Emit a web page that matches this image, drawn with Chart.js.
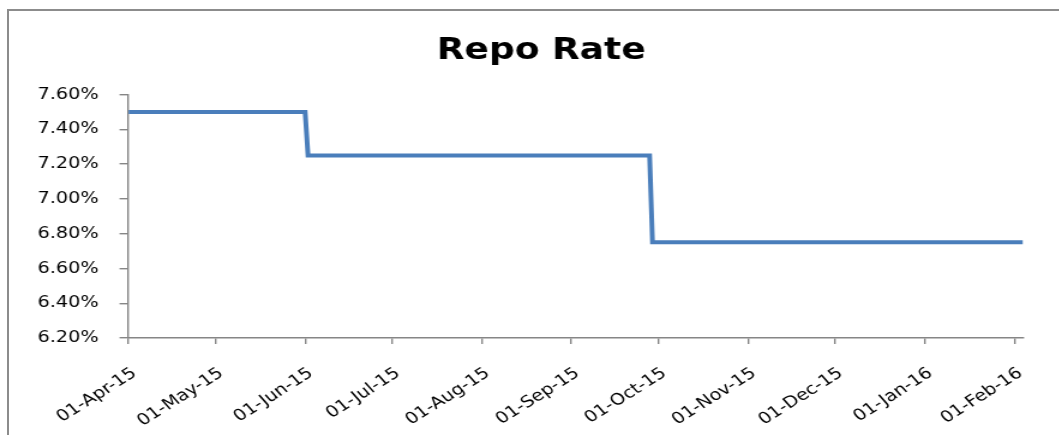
<!DOCTYPE html>
<html>
<head>
<meta charset="utf-8">
<script src="https://cdn.jsdelivr.net/npm/chart.js@4"></script>
<style>
  html, body { margin: 0; padding: 0; background: #fff; overflow: hidden; width: 1059px; height: 435px; }
  #frame { position: absolute; left: 7px; top: 9px; width: 1200px; height: 600px;
           border-left: 2px solid #8c8c8c; border-top: 2px solid #8c8c8c; }
  #c { position: absolute; left: 0; top: 0; transform-origin: 0 0; transform: scaleX(1.2); }
</style>
</head>
<body>
<div id="frame"></div>
<canvas id="c" width="902" height="435"></canvas>
<script>
// ---- data ----
const pointDates  = ['2015-04-01', '2015-06-01', '2015-06-02', '2015-09-28', '2015-09-29', '2016-02-04'];
const repoRate    = [7.50, 7.50, 7.25, 7.25, 6.75, 6.75];
const tickDates   = ['2015-04-01', '2015-05-01', '2015-06-01', '2015-07-01', '2015-08-01', '2015-09-01',
                     '2015-10-01', '2015-11-01', '2015-12-01', '2016-01-01', '2016-02-01'];
const tickLabels  = ['01-Apr-15', '01-May-15', '01-Jun-15', '01-Jul-15', '01-Aug-15', '01-Sep-15',
                     '01-Oct-15', '01-Nov-15', '01-Dec-15', '01-Jan-16', '01-Feb-16'];
const yMin = 6.2, yMax = 7.6, yStep = 0.2;

const day0 = Date.UTC(2015, 3, 1);
function dayOffset(s) {
  const p = s.split('-').map(Number);
  return Math.round((Date.UTC(p[0], p[1] - 1, p[2]) - day0) / 86400000);
}
const points = pointDates.map((d, i) => ({ x: dayOffset(d), y: repoRate[i] }));
const tickVals = tickDates.map(dayOffset);

const axisColor = '#868686';
const textColor = '#000';

new Chart(document.getElementById('c'), {
  type: 'line',
  data: {
    datasets: [{
      data: points,
      borderColor: '#4a7ebb',
      borderWidth: 4,
      pointRadius: 0,
      tension: 0,
      fill: false
    }]
  },
  options: {
    responsive: false,
    devicePixelRatio: 1,
    animation: false,
    layout: { padding: { left: 0, right: 0, top: 0, bottom: 0 } },
    plugins: {
      legend: { display: false },
      tooltip: { enabled: false },
      title: {
        display: true,
        text: 'Repo Rate',
        color: textColor,
        font: { family: 'DejaVu Sans', size: 30, weight: 'bold', lineHeight: 1.2 },
        padding: { top: 33, bottom: 25.5 }
      }
    },
    scales: {
      x: {
        type: 'linear',
        min: 0,
        max: dayOffset(pointDates[pointDates.length - 1]),
        afterBuildTicks: (s) => { s.ticks = tickVals.map(v => ({ value: v })); },
        afterFit: (s) => { s.height = 97; },
        grid: { drawOnChartArea: false, drawTicks: true, tickLength: 6, color: axisColor, lineWidth: 1.4 },
        border: { display: true, color: axisColor, width: 1.5 },
        ticks: {
          autoSkip: false,
          minRotation: 37, maxRotation: 37,
          padding: 20,
          labelOffset: 5,
          color: textColor,
          font: { family: 'DejaVu Sans', size: 16 },
          callback: (v, i) => tickLabels[i]
        }
      },
      y: {
        min: yMin, max: yMax,
        afterFit: (s) => { s.width = 107.1; },
        grid: { drawOnChartArea: false, drawTicks: true, tickLength: 7.5, color: axisColor, lineWidth: 1.4 },
        border: { display: true, color: axisColor, width: 1.4 },
        ticks: {
          stepSize: yStep,
          padding: 17.5,
          color: textColor,
          font: { family: 'DejaVu Sans', size: 16 },
          callback: (v) => v.toFixed(2) + '%'
        }
      },
      spacer: {
        position: 'right',
        display: true,
        afterFit: (s) => { s.width = 49.5; },
        grid: { display: false },
        border: { display: false },
        ticks: { display: false }
      }
    }
  }
});
</script>
</body>
</html>
